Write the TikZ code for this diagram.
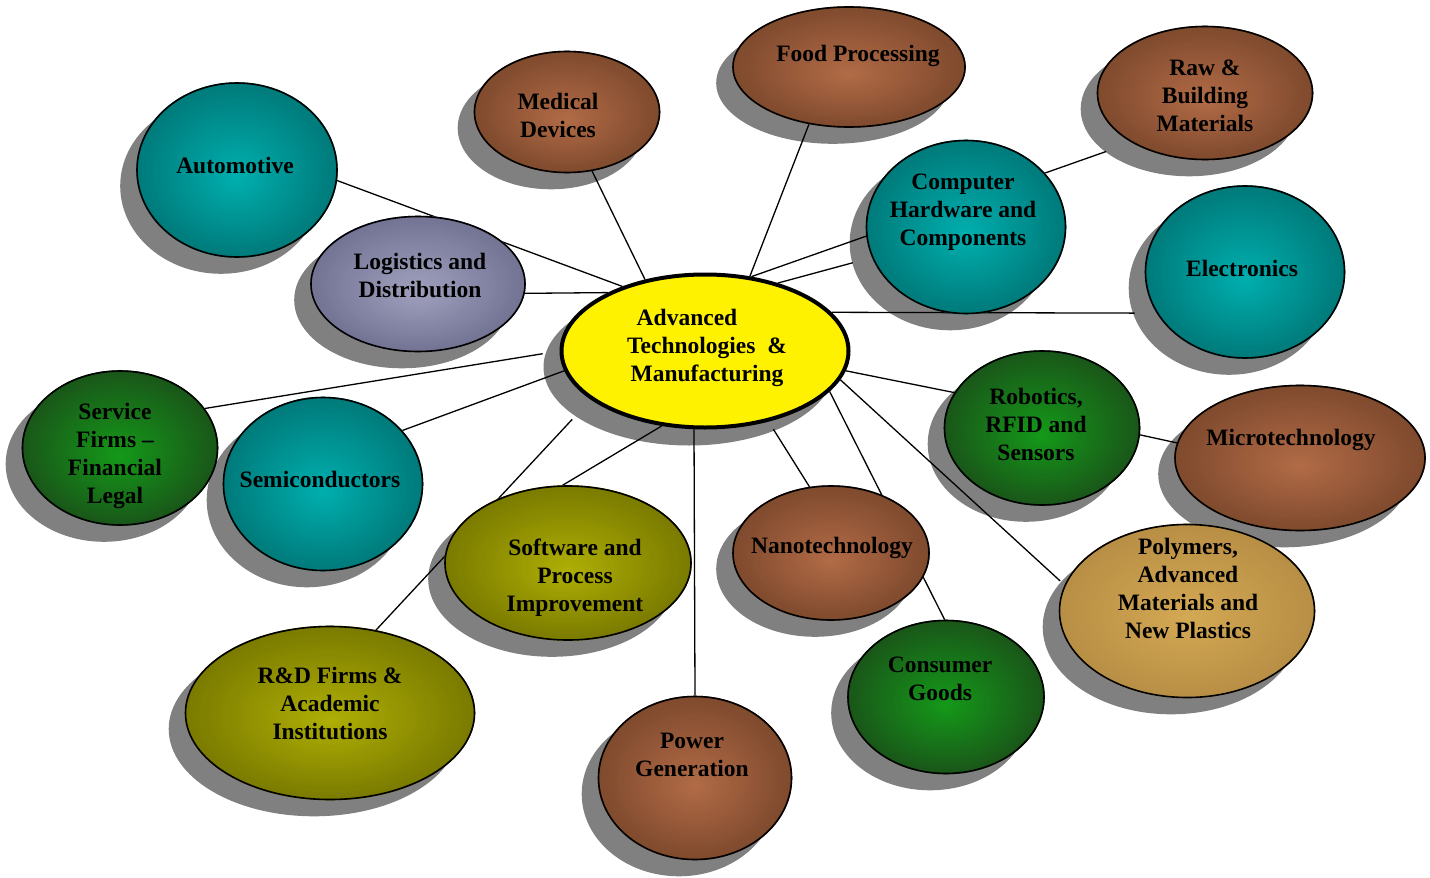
\documentclass[tikz,border=0pt]{standalone}
\usepackage{fontspec}
\setmainfont{Liberation Serif}
\usetikzlibrary{shapes.geometric,calc}

% centre and rim colours of the bubbles
\definecolor{cyanin}{rgb}{0,1,1}
\definecolor{cyanout}{rgb}{0,0.48,0.48}
\definecolor{greenin}{rgb}{0.05,1,0.1}
\definecolor{greenout}{rgb}{0.1,0.34,0.1}
\definecolor{brownin}{rgb}{1,0.62,0.42}
\definecolor{brownout}{rgb}{0.5,0.29,0.18}
\definecolor{olivein}{rgb}{1,1,0.05}
\definecolor{oliveout}{rgb}{0.48,0.48,0}
\definecolor{tanin}{rgb}{1,0.82,0.42}
\definecolor{tanout}{rgb}{0.72,0.56,0.27}
\definecolor{lavin}{rgb}{0.9,0.9,1}
\definecolor{lavout}{rgb}{0.45,0.45,0.58}

\pgfdeclarelayer{shadows}
\pgfdeclarelayer{lines}
\pgfdeclarelayer{fills}
\pgfsetlayers{shadows,lines,fills,main}

\begin{document}
\begin{tikzpicture}[x=1pt,y=-1pt,
      mybubble/.style={
         ellipse,
         draw=black,
         line width=1.6pt,
         inner sep=0pt},
      mytext/.style={
         align=center,
         inner sep=0pt,
         font=\bfseries\fontsize{23.5}{28}\selectfont},
      myline/.style={line width=1.3pt},
      myshadow/.style={fill=black!50}
      ]
\useasboundingbox (0,0) rectangle (1430,878);

      \node[mybubble, fill=yellow, line width=4pt, minimum width=287pt, minimum height=153pt,
            label={[mytext,xshift=2pt,yshift=3pt]center:{Advanced\kern40pt\\Technologies\ \ \&\\Manufacturing}}] (hub) at (705,351) {};

      \node[mybubble, minimum width=200pt, minimum height=174pt,
            label={[mytext,xshift=-2pt,yshift=5pt]center:Automotive}] (auto) at (237,170) {};
      \node[mybubble, minimum width=185pt, minimum height=121pt,
            label={[mytext,xshift=-9pt,yshift=-3pt]center:{Medical\\Devices}}] (med) at (567,112) {};
      \node[mybubble, minimum width=232pt, minimum height=120pt,
            label={[mytext,xshift=9pt,yshift=11pt]center:{Food Processing}}] (food) at (849,67) {};
      \node[mybubble, minimum width=215pt, minimum height=133pt,
            label={[mytext,yshift=-3pt]center:{Raw \&\\Building\\Materials}}] (raw) at (1205,93) {};
      \node[mybubble, minimum width=199pt, minimum height=173pt,
            label={[mytext,xshift=-3pt,yshift=15pt]center:{Computer\\Hardware and\\Components}}] (comp) at (966,227) {};
      \node[mybubble, minimum width=199pt, minimum height=172pt,
            label={[mytext,xshift=-3pt,yshift=4pt]center:Electronics}] (elec) at (1245,272) {};
      \node[mybubble, minimum width=214pt, minimum height=135pt,
            label={[mytext,xshift=2pt,yshift=9pt]center:{Logistics and\\Distribution}}] (logi) at (418,284) {};
      \node[mybubble, minimum width=195pt, minimum height=154pt,
            label={[mytext,xshift=-5pt,yshift=-8pt]center:{Service\\Firms --\\Financial\\Legal}}] (serv) at (120,448) {};
      \node[mybubble, minimum width=199pt, minimum height=173pt,
            label={[mytext,xshift=-3pt,yshift=5pt]center:Semiconductors}] (semi) at (323,484) {};
      \node[mybubble, minimum width=195pt, minimum height=154pt,
            label={[mytext,xshift=-6pt,yshift=4pt]center:{Robotics,\\RFID and\\Sensors}}] (robo) at (1042,428) {};
      \node[mybubble, minimum width=255pt, minimum height=173pt,
            label={[mytext,xshift=1pt,yshift=23pt]center:{Polymers,\\Advanced\\Materials and\\New Plastics}}] (poly) at (1187,611) {};
      \node[mybubble, minimum width=250pt, minimum height=145pt,
            label={[mytext,xshift=-9pt,yshift=18pt]center:Microtechnology}] (micro) at (1300,458) {};
      \node[mybubble, minimum width=246pt, minimum height=154pt,
            label={[mytext,xshift=7pt,yshift=-15pt]center:{Software and\\Process\\Improvement}}] (soft) at (568,563) {};
      \node[mybubble, minimum width=196pt, minimum height=134pt,
            label={[mytext,xshift=1pt,yshift=5pt]center:Nanotechnology}] (nano) at (831,553) {};
      \node[mybubble, minimum width=289pt, minimum height=173pt,
            label={[mytext,yshift=10pt]center:{R\&D Firms \&\\Academic\\Institutions}}] (rnd) at (330,713) {};
      \node[mybubble, minimum width=193pt, minimum height=163pt,
            label={[mytext,xshift=-3pt,yshift=23pt]center:{Power\\Generation}}] (power) at (695,778) {};
      \node[mybubble, minimum width=196pt, minimum height=153pt,
            label={[mytext,xshift=-6pt,yshift=18pt]center:{Consumer\\Goods}}] (cons) at (946,697) {};

% shadows under every bubble
\begin{pgfonlayer}{shadows}
    \foreach \nd in {hub,auto,med,food,raw,comp,elec,logi,serv,semi,robo,poly,micro,soft,nano,rnd,power,cons}
       \fill[myshadow] let \p1=($(\nd.east)-(\nd.center)$), \p2=($(\nd.north)-(\nd.center)$) in
          ([shift={(-16pt,-16pt)}]\nd.center) ellipse ({\x1} and {\y2});
\end{pgfonlayer}

% radial fills, rim to centre
\begin{pgfonlayer}{fills}
    \foreach \nd/\cin/\cout in {auto/cyanin/cyanout, med/brownin/brownout, food/brownin/brownout,
          raw/brownin/brownout, comp/cyanin/cyanout, elec/cyanin/cyanout, logi/lavin/lavout,
          serv/greenin/greenout, semi/cyanin/cyanout, robo/greenin/greenout, poly/tanin/tanout,
          micro/brownin/brownout, soft/olivein/oliveout, nano/brownin/brownout, rnd/olivein/oliveout,
          power/brownin/brownout, cons/greenin/greenout}
       \foreach \k [evaluate=\k as \pct using \k*2.5*(2-\k/40), evaluate=\k as \r using 1-\k/40] in {0,...,39}
          \fill[\cin!\pct!\cout] let \p1=($(\nd.east)-(\nd.center)$), \p2=($(\nd.north)-(\nd.center)$) in
             ([yshift=-\k*0.2pt]\nd.center) ellipse ({\r*\x1} and {\r*\y2});
\end{pgfonlayer}

% spokes
\begin{pgfonlayer}{lines}
    \foreach \h/\nd/\e/\a/\b in {% hub angle/node/node angle/shorten start/shorten end
      142/auto/354/0/0,
      149/logi/355/0/0,
      130/med/293/0/0,
      59/food/235/0/0,
      58/raw/214/0/27,
      43/comp/198/0/20,
      17/elec/205/0/22,
      352/robo/158/0/0,
      348/poly/168/0/6,
      342/cons/91/0/0,
      312/nano/108/9/0,
      262.5/power/90/0/0,
      240/soft/94/0/0,
      203/rnd/61/27/0,
      188/semi/34/0/0,
      180/serv/25/17/0}
       \draw[myline, shorten <=\a pt, shorten >=\b pt] (hub.\h) -- (\nd.\e);
    \draw[myline] (robo.356) -- (micro.173);
\end{pgfonlayer}
    \end{tikzpicture}
\end{document}
